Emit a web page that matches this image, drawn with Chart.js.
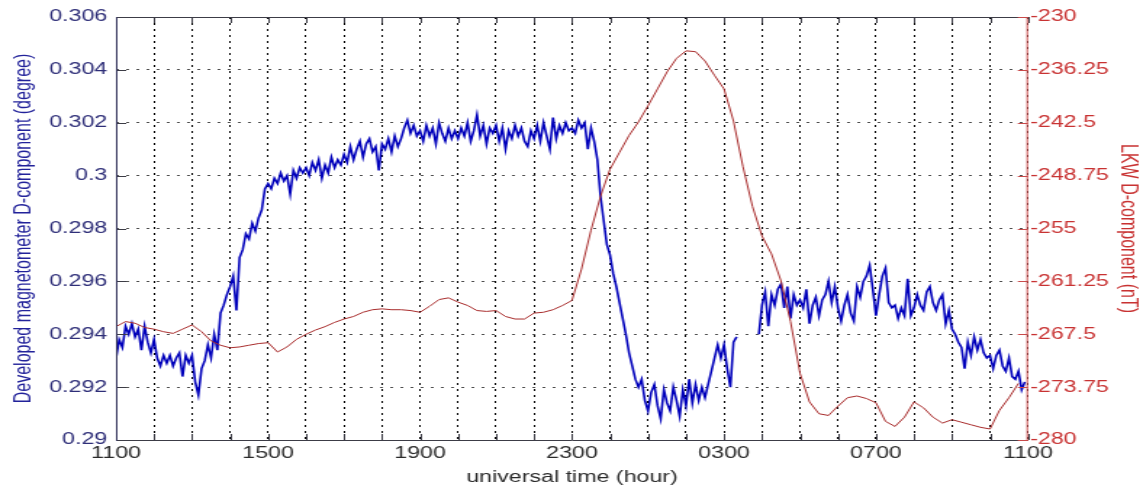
<!DOCTYPE html>
<html>
<head>
<meta charset="utf-8">
<script src="https://cdn.jsdelivr.net/npm/chart.js@4"></script>
<style>
  html, body { margin: 0; padding: 0; background: #fff; overflow: hidden; }
  /* the reference is a horizontally stretched MATLAB figure */
  #wrap { width: 788px; height: 486px; transform: scaleX(1.4505); transform-origin: 0 0; }
</style>
</head>
<body>
<div id="wrap"><canvas id="chart" width="788" height="486"></canvas></div>
<script>
// --- DATA ---
const xTickLabels = ['1100', '1500', '1900', '2300', '0300', '0700', '1100'];
const leftTickValues = [0.290, 0.292, 0.294, 0.296, 0.298, 0.300, 0.302, 0.304, 0.306];
const leftTickLabels = ['0.29', '0.292', '0.294', '0.296', '0.298', '0.3', '0.302', '0.304', '0.306'];
const rightTickValues = [-280, -273.75, -267.5, -261.25, -255, -248.75, -242.5, -236.25, -230];
const rightTickLabels = ['-280', '-273.75', '-267.5', '-261.25', '-255', '-248.75', '-242.5', '-236.25', '-230'];

// developed magnetometer, one value every 5 minutes from 1100 UT (null = no data)
const blueStepMin = 5;
const blueValues = [
  0.2931, 0.2938, 0.2935, 0.2943, 0.2940, 0.2944, 0.2939, 0.2942, 0.2934, 0.2943, 0.2937, 0.2933, // 11
  0.2938, 0.2931, 0.2928, 0.2932, 0.2929, 0.2932, 0.2928, 0.2931, 0.2933, 0.2924, 0.2932, 0.2929, // 12
  0.2932, 0.2922, 0.2917, 0.2927, 0.2930, 0.2936, 0.2931, 0.2940, 0.2934, 0.2948, 0.2951, 0.2955, // 13
  0.2958, 0.2962, 0.2949, 0.2969, 0.2972, 0.2978, 0.2976, 0.2982, 0.2979, 0.2984, 0.2987, 0.2995, // 14
  0.2997, 0.2995, 0.2999, 0.2997, 0.3001, 0.2998, 0.3000, 0.2993, 0.3002, 0.2999, 0.3003, 0.3001, // 15
  0.3003, 0.3000, 0.3005, 0.3002, 0.3006, 0.2999, 0.3004, 0.3001, 0.3007, 0.3003, 0.3006, 0.3004, // 16
  0.3008, 0.3005, 0.3011, 0.3006, 0.3010, 0.3013, 0.3007, 0.3012, 0.3014, 0.3009, 0.3011, 0.3002, // 17
  0.3012, 0.3010, 0.3014, 0.3009, 0.3015, 0.3011, 0.3014, 0.3018, 0.3021, 0.3016, 0.3019, 0.3015, // 18
  0.3017, 0.3013, 0.3019, 0.3015, 0.3018, 0.3012, 0.3020, 0.3016, 0.3013, 0.3018, 0.3014, 0.3017, // 19
  0.3014, 0.3018, 0.3015, 0.3020, 0.3013, 0.3017, 0.3023, 0.3015, 0.3019, 0.3012, 0.3018, 0.3016, // 20
  0.3019, 0.3013, 0.3018, 0.3010, 0.3017, 0.3014, 0.3019, 0.3015, 0.3018, 0.3013, 0.3011, 0.3017, // 21
  0.3014, 0.3019, 0.3013, 0.3020, 0.3015, 0.3010, 0.3022, 0.3014, 0.3019, 0.3016, 0.3020, 0.3017, // 22
  0.3018, 0.3016, 0.3021, 0.3018, 0.3020, 0.3010, 0.3018, 0.3013, 0.3006, 0.2992, 0.2983, 0.2974, // 23
  0.2970, 0.2963, 0.2958, 0.2952, 0.2946, 0.2940, 0.2933, 0.2928, 0.2923, 0.2920, 0.2923, 0.2915, // 00
  0.2911, 0.2918, 0.2921, 0.2913, 0.2908, 0.2919, 0.2914, 0.2911, 0.2920, 0.2915, 0.2909, 0.2919, // 01
  0.2913, 0.2923, 0.2914, 0.2921, 0.2915, 0.2920, 0.2916, 0.2921, 0.2926, 0.2931, 0.2936, 0.2931, // 02
  0.2936, 0.2927, 0.2920, 0.2937, 0.2939, null,   null,   null,   null,   null,   null,   0.2940, // 03
  0.2951, 0.2956, 0.2943, 0.2955, 0.2951, 0.2957, 0.2959, 0.2950, 0.2958, 0.2946, 0.2955, 0.2951, // 04
  0.2953, 0.2950, 0.2957, 0.2944, 0.2951, 0.2954, 0.2947, 0.2953, 0.2955, 0.2960, 0.2952, 0.2958, // 05
  0.2950, 0.2945, 0.2951, 0.2955, 0.2948, 0.2945, 0.2958, 0.2954, 0.2960, 0.2962, 0.2966, 0.2957, // 06
  0.2947, 0.2955, 0.2962, 0.2965, 0.2952, 0.2950, 0.2951, 0.2946, 0.2950, 0.2947, 0.2961, 0.2947, // 07
  0.2950, 0.2955, 0.2951, 0.2949, 0.2956, 0.2958, 0.2952, 0.2949, 0.2953, 0.2955, 0.2944, 0.2949, // 08
  0.2942, 0.2940, 0.2937, 0.2935, 0.2927, 0.2937, 0.2932, 0.2939, 0.2934, 0.2938, 0.2933, 0.2931, // 09
  0.2932, 0.2927, 0.2932, 0.2934, 0.2928, 0.2926, 0.2931, 0.2924, 0.2923, 0.2926, 0.2919, 0.2922  // 10
];

// LKW D-component (nT), one value every 15 minutes from 1100 UT
const redStepMin = 15;
const redValues = [
  -266.6, -266.0, -266.2, -266.7, -266.9, -267.2, -267.4, -266.9, // 11-13
  -266.4, -267.2, -268.3, -268.8, -269.1, -269.0, -268.8, -268.6, // 13-15
  -268.5, -269.6, -269.0, -268.1, -267.5, -267.0, -266.6, -266.1, // 15-17
  -265.7, -265.4, -264.9, -264.6, -264.5, -264.6, -264.6, -264.7, // 17-19
  -264.9, -264.2, -263.4, -263.2, -263.7, -264.1, -264.7, -264.8, // 19-21
  -264.7, -265.4, -265.7, -265.7, -265.0, -264.9, -264.6, -264.1, // 21-23
  -263.5, -259.8, -255.2, -251.2, -248.0, -246.0, -244.0, -242.4, // 23-01
  -240.5, -238.5, -236.5, -234.9, -234.0, -234.1, -235.2, -236.9, // 01-03
  -238.5, -242.3, -247.7, -252.4, -255.9, -258.0, -261.2, -266.0, // 03-05
  -272.1, -275.5, -276.9, -277.1, -276.0, -275.0, -274.8, -275.1, // 05-07
  -275.6, -277.8, -278.4, -277.3, -275.5, -276.2, -277.3, -278.0, // 07-09
  -277.6, -277.9, -278.2, -278.5, -278.7, -276.5, -275.0, -273.3  // 09-11
];

// --- HELPERS ---
function toPoints(values, stepMin) {
  return values.map((v, i) => ({ x: i * stepMin / 60, y: v }));
}

const FONT = 'Arial, "Liberation Sans", Helvetica, sans-serif';

// MATLAB style box with inward ticks
const matlabFrame = {
  id: 'matlabFrame',
  afterDraw(chart) {
    const { ctx, chartArea: a, scales } = chart;
    const line = (x1, y1, x2, y2) => { ctx.beginPath(); ctx.moveTo(x1, y1); ctx.lineTo(x2, y2); ctx.stroke(); };
    ctx.save();
    ctx.lineWidth = 1;
    ctx.strokeStyle = '#3c3c46';
    scales.x.ticks.forEach(t => {
      const px = Math.round(scales.x.getPixelForValue(t.value)) + 0.5;
      line(px, a.bottom, px, a.bottom - 6);
      line(px, a.top, px, a.top + 6);
    });
    scales.y.ticks.forEach(t => {
      const py = Math.round(scales.y.getPixelForValue(t.value)) + 0.5;
      line(a.left, py, a.left + 7, py);
    });
    line(a.left, a.top + 0.5, a.right, a.top + 0.5);
    line(a.left, a.bottom + 0.5, a.right, a.bottom + 0.5);
    ctx.strokeStyle = '#34345c';
    line(a.left + 0.5, a.top, a.left + 0.5, a.bottom + 1);
    ctx.strokeStyle = '#c84a4a';
    scales.y2.ticks.forEach(t => {
      const py = Math.round(scales.y2.getPixelForValue(t.value)) + 0.5;
      line(a.right, py, a.right - 7, py);
    });
    line(a.right - 0.5, a.top, a.right - 0.5, a.bottom + 1);
    ctx.restore();
  }
};

const ctx = document.getElementById('chart').getContext('2d');
new Chart(ctx, {
  type: 'line',
  data: {
    datasets: [
      {
        label: 'LKW D-component',
        data: toPoints(redValues, redStepMin),
        yAxisID: 'y2',
        borderColor: '#a82c2c',
        borderWidth: 1,
        pointRadius: 0,
        tension: 0,
        order: 0
      },
      {
        label: 'Developed magnetometer D-component',
        data: toPoints(blueValues, blueStepMin),
        yAxisID: 'y',
        borderColor: '#0000bb',
        borderWidth: 1.6,
        pointRadius: 0,
        tension: 0,
        spanGaps: false,
        order: 1
      }
    ]
  },
  options: {
    responsive: false,
    animation: false,
    events: [],
    layout: { padding: { top: 17, left: 0, right: 0, bottom: 0 } },
    plugins: { legend: { display: false }, tooltip: { enabled: false } },
    scales: {
      x: {
        type: 'linear',
        min: 0,
        max: 24,
        afterFit: s => { s.height = 46; },
        ticks: {
          stepSize: 1,
          autoSkip: false,
          maxRotation: 0,
          padding: 4,
          color: '#2a2a2a',
          font: { family: FONT, size: 16 },
          callback: v => (v % 4 === 0 ? xTickLabels[v / 4] : '')
        },
        grid: { color: '#000', lineWidth: 1, drawTicks: false },
        border: { display: false, dash: [2, 4] },
        title: {
          display: true,
          text: 'universal time (hour)',
          color: '#2a2a2a',
          font: { family: FONT, size: 16 },
          padding: { top: 0, bottom: -1 }
        }
      },
      y: {
        type: 'linear',
        position: 'left',
        min: 0.29,
        max: 0.306,
        afterFit: s => { s.width = 80; },
        afterBuildTicks: s => { s.ticks = leftTickValues.map(v => ({ value: v })); },
        ticks: {
          padding: 6,
          color: '#2e2e78',
          font: { family: FONT, size: 16 },
          callback: (v, i) => leftTickLabels[i]
        },
        grid: { color: '#505050', lineWidth: 1, drawTicks: false },
        border: { display: false, dash: [2, 5] },
        title: {
          display: true,
          text: 'Developed magnetometer D-component (degree)',
          color: '#22229a',
          font: { family: FONT, size: 16 },
          padding: { top: 7, bottom: 0 }
        }
      },
      y2: {
        type: 'linear',
        position: 'right',
        min: -280,
        max: -230,
        afterFit: s => { s.width = 79.3; },
        afterBuildTicks: s => { s.ticks = rightTickValues.map(v => ({ value: v })); },
        ticks: {
          padding: 1.5,
          color: '#c83232',
          font: { family: FONT, size: 16 },
          callback: (v, i) => rightTickLabels[i]
        },
        grid: { drawOnChartArea: false, drawTicks: false },
        border: { display: false },
        title: {
          display: true,
          text: 'LKW D-component (nT)',
          color: '#c83232',
          font: { family: FONT, size: 16 },
          padding: { top: 1, bottom: 0 }
        }
      }
    }
  },
  plugins: [matlabFrame]
});
</script>
</body>
</html>
